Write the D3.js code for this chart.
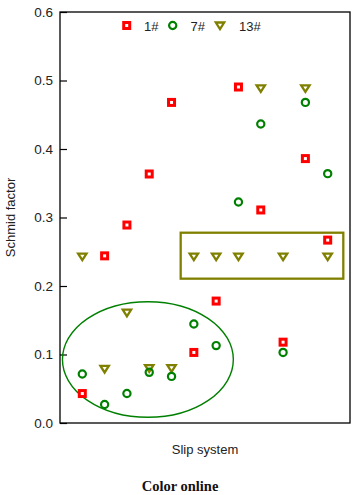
<!DOCTYPE html>
<html><head><meta charset="utf-8">
<script src="https://cdn.jsdelivr.net/npm/d3@7"></script>
<style>body{margin:0;background:#fff}svg{display:block}</style>
</head><body>
<svg id="c" width="358" height="495"></svg>
<script>
const slipSystems = [1,2,3,4,5,6,7,8,9,10,11,12];
const s1  = [0.043,0.244,0.289,0.3635,0.468,0.103,0.178,0.4905,0.311,0.118,0.386,0.267];
const s7  = [0.0715,0.027,0.043,0.074,0.068,0.1445,0.113,0.3226,0.4365,0.103,0.468,0.364];
const s13 = [0.243,0.079,0.161,0.080,0.080,0.243,0.243,0.243,0.4886,0.243,0.4886,0.243];
const yTicks = [0.0,0.1,0.2,0.3,0.4,0.5,0.6];
const seriesNames = ["1#","7#","13#"];
// annotations in data units
const ellipseAnn = {cx:3.94, cy:0.0927, rx:3.83, ry:0.0844};
const rectAnn = {x0:5.41, x1:12.70, y0:0.2107, y1:0.2778};

const svg = d3.select("#c");
const L=60,R=350,T=12,B=423;
const x = d3.scaleLinear().domain([0,13]).range([L,R]);
const y = d3.scaleLinear().domain([0,0.6]).range([B,T]);
const font = "'Liberation Sans', Arial, sans-serif";
const RED="#ff0000", GREEN="#008000", OLIVE="#808000";

// frame
svg.append("rect").attr("x",L).attr("y",T).attr("width",R-L).attr("height",B-T)
  .attr("fill","none").attr("stroke","#000").attr("stroke-width",1.3);

// y axis with inward ticks
const ya = svg.append("g").attr("transform",`translate(${L},0)`)
  .call(d3.axisLeft(y).tickValues(yTicks).tickFormat(d3.format(".1f")).tickSizeInner(-7).tickSizeOuter(0).tickPadding(7));
ya.select(".domain").remove();
ya.selectAll("line").attr("stroke","#000").attr("stroke-width",1.2);
ya.selectAll("text").attr("font-family",font).attr("font-size",13.5).attr("fill","#222").attr("x",-7);

// labels
svg.append("text").attr("transform",`translate(15,${(T+B)/2}) rotate(-90)`)
  .attr("text-anchor","middle").attr("font-family",font).attr("font-size",13).attr("fill","#222").text("Schmid factor");
svg.append("text").attr("x",(L+R)/2).attr("y",454).attr("text-anchor","middle")
  .attr("font-family",font).attr("font-size",13).attr("fill","#222").text("Slip system");
svg.append("text").attr("x",180).attr("y",491).attr("text-anchor","middle")
  .attr("font-family","'Liberation Serif','DejaVu Serif',serif").attr("font-weight","bold").attr("font-size",14.5).attr("fill","#111").text("Color online");

// annotations
svg.append("ellipse").attr("cx",x(ellipseAnn.cx)).attr("cy",y(ellipseAnn.cy))
  .attr("rx",x(ellipseAnn.rx)-x(0)).attr("ry",y(0)-y(ellipseAnn.ry))
  .attr("fill","none").attr("stroke",GREEN).attr("stroke-width",1.4);
svg.append("rect").attr("x",x(rectAnn.x0)).attr("y",y(rectAnn.y1))
  .attr("width",x(rectAnn.x1)-x(rectAnn.x0)).attr("height",y(rectAnn.y0)-y(rectAnn.y1))
  .attr("fill","none").attr("stroke",OLIVE).attr("stroke-width",2.3);

// marker drawers
function sq(g,cx,cy){ g.append("rect").attr("x",cx-3).attr("y",cy-3).attr("width",6).attr("height",6)
  .attr("fill","#fff").attr("stroke",RED).attr("stroke-width",3); }
function ci(g,cx,cy){ g.append("circle").attr("cx",cx).attr("cy",cy).attr("r",3.6)
  .attr("fill","none").attr("stroke",GREEN).attr("stroke-width",2.2); }
function tri(g,cx,cy){ g.append("path").attr("d",`M${cx-4.2},${cy-3}L${cx+4.2},${cy-3}L${cx},${cy+3.6}Z`)
  .attr("fill","none").attr("stroke",OLIVE).attr("stroke-width",2.3).attr("stroke-linejoin","miter"); }

const pts = svg.append("g");
slipSystems.forEach((s,i)=>{ tri(pts,x(s),y(s13[i])); });
slipSystems.forEach((s,i)=>{ ci(pts,x(s),y(s7[i])); });
slipSystems.forEach((s,i)=>{ sq(pts,x(s),y(s1[i])); });

// legend
const lg = svg.append("g");
const legendItems = [{n:seriesNames[0],f:sq,mx:126.7,tx:144},{n:seriesNames[1],f:ci,mx:172.7,tx:190.5},{n:seriesNames[2],f:tri,mx:220,tx:239}];
legendItems.forEach(d=>{
  d.f(lg,d.mx,25.5);
  lg.append("text").attr("x",d.tx).attr("y",30.5).attr("font-family",font).attr("font-size",13).attr("fill","#222").text(d.n);
});
</script>
</body></html>
